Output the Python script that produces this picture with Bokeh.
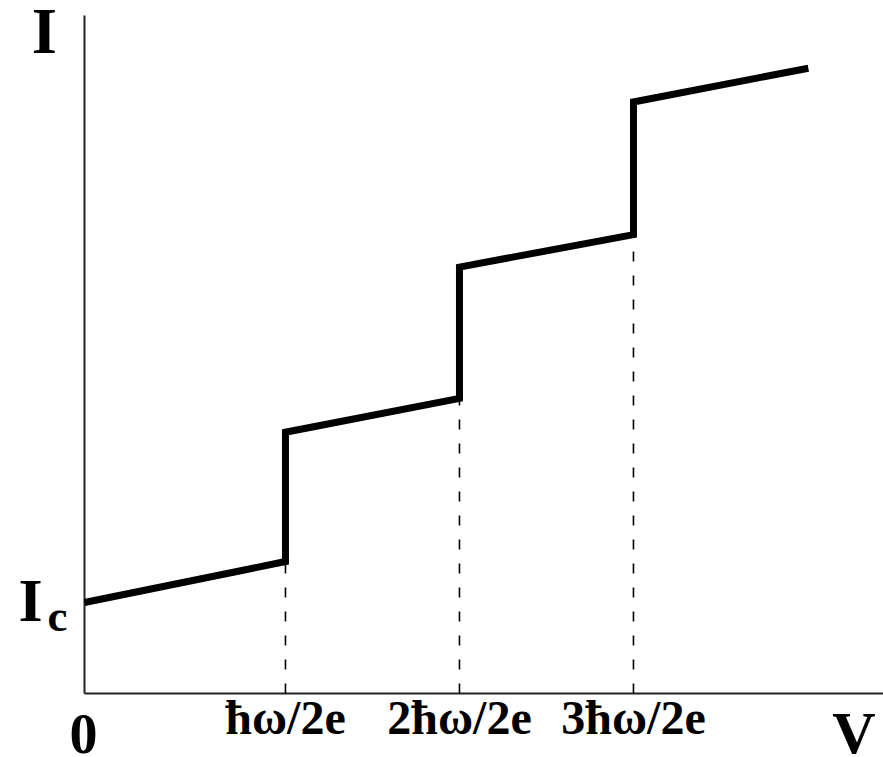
from bokeh.plotting import figure
from bokeh.models import Range1d
from bokeh.core.properties import value
from bokeh.embed import file_html
from bokeh.resources import INLINE

# Voltage in units of hbar*omega/2e (schematic), current in arbitrary units
V_curve = [0.0, 1.155, 1.155, 2.155, 2.155, 3.155, 3.155, 4.16]
I_curve = [0.70, 1.015, 2.01, 2.27, 3.28, 3.53, 4.55, 4.81]
step_V = [1.155, 2.155, 3.155]
step_I_low = [1.015, 2.27, 3.53]
tick_labels = ["ħω/2e", "2ħω/2e", "3ħω/2e"]
V_axis_max = 4.592
I_axis_max = 5.215
Ic = 0.70

FONT = "Liberation Serif"
PX_PER_V = 174.0
PX_PER_I = 130.0
BASE_SHIFT = 0.38  # em, compensation for text baseline placement

p = figure(width=883, height=757, output_backend="svg", toolbar_location=None,
           x_range=Range1d(-84 / PX_PER_V, 799 / PX_PER_V),
           y_range=Range1d(-64 / PX_PER_I, 693 / PX_PER_I),
           x_axis_type=None, y_axis_type=None,
           min_border=0)
p.outline_line_color = None
p.background_fill_color = "white"
p.border_fill_color = "white"
p.grid.visible = False

# axes (V axis along I=0, I axis along V=0)
p.segment(x0=[0, 0], y0=[0, 0], x1=[V_axis_max, 0], y1=[0, I_axis_max],
          line_color="#222222", line_width=2)

# dashed guides from each step down to the V axis
p.segment(x0=step_V, y0=[0] * len(step_V), x1=step_V, y1=step_I_low,
          line_color="black", line_width=1.6, line_dash="10 14")

# I-V curve with Shapiro steps
p.line(V_curve, I_curve, line_color="black", line_width=7, line_join="miter")

def txt(xs, ys, texts, size, align="center"):
    # ys are baseline offsets in data units; shift up to compensate baseline
    sz = float(size.replace("px", ""))
    ys = [y + BASE_SHIFT * sz / PX_PER_I for y in ys]
    p.text(x=xs, y=ys, text=texts, text_font=value(FONT), text_font_style="bold",
           text_font_size=value(size), text_align=align, text_baseline="alphabetic",
           text_color="black")

# tick labels under the axis
txt(step_V, [-42 / PX_PER_I] * len(step_V), tick_labels, "48px")
# origin and axis names
txt([-1 / PX_PER_V], [-62 / PX_PER_I], ["0"], "56px")
txt([769.5 / PX_PER_V], [-62 / PX_PER_I], ["V"], "60px")
txt([-40 / PX_PER_V], [638 / PX_PER_I], ["I"], "65px")
# critical current I_c
txt([-66 / PX_PER_V], [Ic - 21 / PX_PER_I], ["I"], "62px", "left")
txt([-37 / PX_PER_V], [Ic - 31 / PX_PER_I], ["c"], "45px", "left")

open("out.html", "w").write(file_html(p, INLINE))
